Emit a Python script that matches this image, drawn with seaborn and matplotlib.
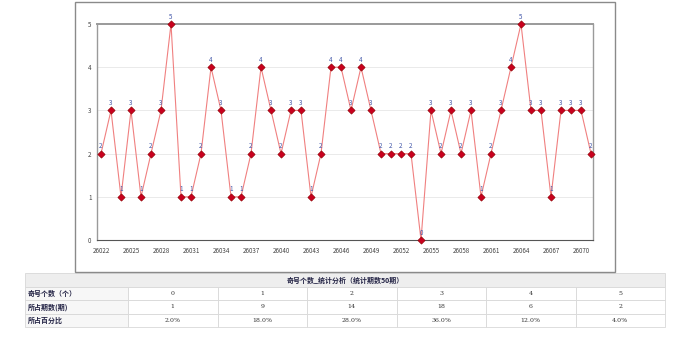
import matplotlib
matplotlib.use("Agg")
import matplotlib.pyplot as plt
import seaborn as sns
import pandas as pd
from matplotlib.patches import Rectangle

# ==============================
# DATA
# ==============================
periods = list(range(26022, 26072))
odd_counts = [2, 3, 1, 3, 1, 2, 3, 5, 1, 1,
              2, 4, 3, 1, 1, 2, 4, 3, 2, 3,
              3, 1, 2, 4, 4, 3, 4, 3, 2, 2,
              2, 2, 0, 3, 2, 3, 2, 3, 1, 2,
              3, 4, 5, 3, 3, 1, 3, 3, 3, 2]

table_title = "奇号个数_统计分析（统计期数50期）"
row_labels = ["奇号个数（个）", "所占期数(期)", "所占百分比"]
odd_values = ["0", "1", "2", "3", "4", "5"]
period_counts = ["1", "9", "14", "18", "6", "2"]
percentages = ["2.0%", "18.0%", "28.0%", "36.0%", "12.0%", "4.0%"]

df = pd.DataFrame({"period": periods, "count": odd_counts})

sns.set_style("white")
plt.rcParams["font.family"] = ["Noto Sans CJK SC", "DejaVu Sans"]

W, H = 690, 338
fig = plt.figure(figsize=(W / 100, H / 100), dpi=100)

# ==============================
# OUTER FRAME
# ==============================
fig.patches.append(Rectangle((75 / W, 1 - 272 / H), 540 / W, 270 / H,
                             transform=fig.transFigure, fill=False,
                             edgecolor="#8a8a8a", lw=1.0))

# ==============================
# LINE CHART
# ==============================
ax = fig.add_axes([97 / W, 1 - 240 / H, 496 / W, 216 / H])
sns.lineplot(data=df, x="period", y="count", ax=ax, color="#f08080",
             lw=0.8, zorder=2)
sns.scatterplot(data=df, x="period", y="count", ax=ax, marker="D", s=14,
                color="#c8001e", edgecolor="#8b0000", linewidth=0.4,
                zorder=3, clip_on=False)

for p, c in zip(periods, odd_counts):
    ax.annotate(str(c), (p, c), xytext=(0, 2.5), textcoords="offset points",
                ha="center", va="bottom", fontsize=4.5, color="#4055a8",
                annotation_clip=False)

ax.set_xlim(periods[0] - 0.4, periods[-1] + 0.2)
ax.set_ylim(0, 5)
ax.set_xticks(periods[::3])
ax.set_xticks(periods, minor=True)
ax.set_yticks(range(0, 6))
ax.tick_params(axis="x", which="both", direction="out", length=3,
               width=0.6, color="#555555", labelsize=4.5, labelcolor="#444444",
               pad=2)
ax.tick_params(axis="y", direction="out", length=2, width=0.6,
               color="#555555", labelsize=4.5, labelcolor="#444444", pad=2)
ax.set_xlabel("")
ax.set_ylabel("")
ax.grid(axis="y", color="#e6e6e6", lw=0.6)
ax.set_axisbelow(True)
for side in ["top", "left", "right"]:
    ax.spines[side].set_color("#9a9a9a")
ax.spines["top"].set_linewidth(1.4)
ax.spines["left"].set_linewidth(1.0)
ax.spines["right"].set_linewidth(1.0)
ax.spines["bottom"].set_color("#555555")
ax.spines["bottom"].set_linewidth(0.8)

# ==============================
# STATISTICS TABLE
# ==============================
tab = fig.add_axes([0, 0, 1, 1])
tab.set_xlim(0, W)
tab.set_ylim(H, 0)
tab.axis("off")

x0, x1 = 25, 665
first_w = 103
col_w = (x1 - x0 - first_w) / len(odd_values)
y_top = 273
head_h = 14
row_h = 13.3
border = "#d8d8d8"

tab.add_patch(Rectangle((x0, y_top), x1 - x0, head_h, facecolor="#eeeeee",
                        edgecolor=border, lw=0.6))
tab.text((x0 + x1) / 2, y_top + head_h / 2, table_title, ha="center",
         va="center", fontsize=5, fontweight="bold", color="#222244")

rows = [odd_values, period_counts, percentages]
for r, (label, vals) in enumerate(zip(row_labels, rows)):
    y = y_top + head_h + r * row_h
    tab.add_patch(Rectangle((x0, y), first_w, row_h, facecolor="#f7f7f7",
                            edgecolor=border, lw=0.6))
    tab.text(x0 + 3, y + row_h / 2, label, ha="left", va="center",
             fontsize=5, fontweight="bold", color="#222244")
    for c, v in enumerate(vals):
        cx = x0 + first_w + c * col_w
        tab.add_patch(Rectangle((cx, y), col_w, row_h, facecolor="white",
                                edgecolor=border, lw=0.6))
        tab.text(cx + col_w / 2, y + row_h / 2, v, ha="center", va="center",
                 fontsize=4.5, color="#333333", family="DejaVu Serif")

fig.savefig("out.png", dpi=100)
plt.close(fig)
